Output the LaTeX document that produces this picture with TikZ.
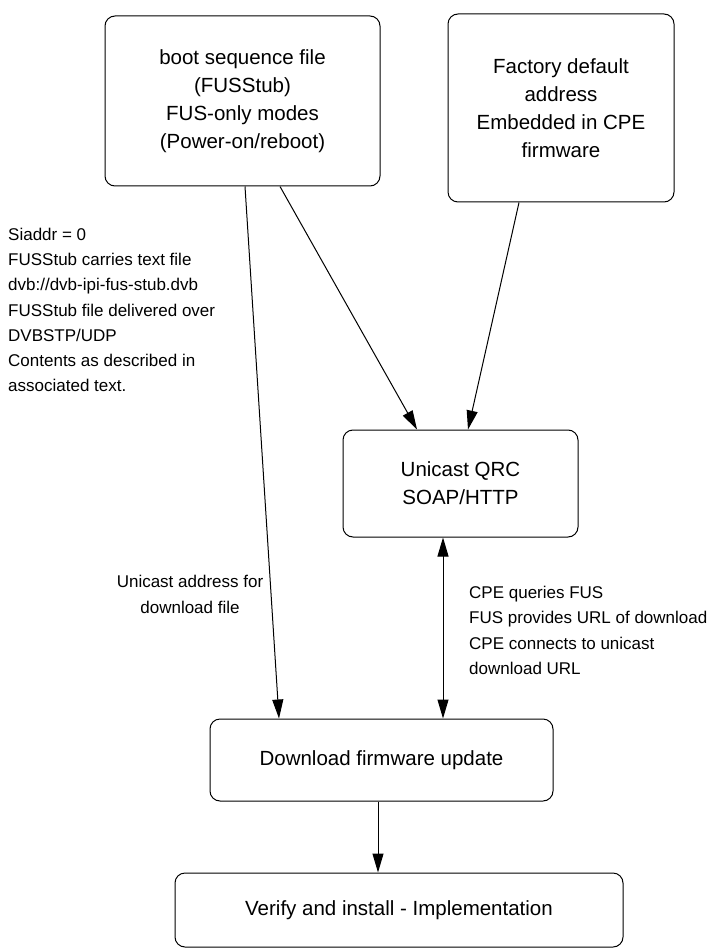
\documentclass[tikz,border=0pt]{standalone}
\usepackage{fontspec}
\setmainfont{Liberation Sans}
\usetikzlibrary{arrows.meta, positioning}

\begin{document}
\begin{tikzpicture}[
    x=1pt, y=-1pt,
    box/.style={
        rectangle, draw=black, line width=1pt,
        rounded corners=10pt, inner sep=0pt,
        align=center, font=\fontsize{20.5}{28}\selectfont
    },
    note/.style={inner sep=0pt, font=\fontsize{17}{25.3}\selectfont},
    arrow/.style={-{Triangle[length=19pt, width=11pt]}, line width=1pt},
    twoway/.style={{Triangle[length=19pt, width=11pt]}-{Triangle[length=19pt, width=11pt]}, line width=1pt}
]
    \useasboundingbox (0,0) rectangle (720,949);

    \node[box, minimum width=275pt, minimum height=170pt] (boot) at (242.5,101)
        {boot sequence file\\(FUSStub)\\FUS-only modes\\(Power-on/reboot)};
    \node[box, minimum width=226pt, minimum height=188pt] (factory) at (561,108)
        {Factory default\\address\\Embedded in CPE\\firmware};
    \node[box, minimum width=235pt, minimum height=107pt] (qrc) at (460.5,483.5)
        {Unicast QRC\\SOAP/HTTP};
    \node[box, minimum width=343pt, minimum height=82pt] (download) at (381.5,760)
        {Download firmware update};
    \node[box, minimum width=448pt, minimum height=74pt] (verify) at (399,910)
        {Verify and install - Implementation};

    %% Labels
    \node[note, anchor=west, align=left] (stubnote) at (8,310)
        {Siaddr = 0\\FUSStub carries text file\\dvb://dvb-ipi-fus-stub.dvb\\FUSStub file delivered over\\DVBSTP/UDP\\Contents as described in\\associated text.};
    \node[note, align=center] (addrnote) at (190,594.5)
        {Unicast address for\\download file};
    \node[note, anchor=west, align=left] (cpenote) at (469,630.5)
        {CPE queries FUS\\FUS provides URL of download\\CPE connects to unicast\\download URL};

    \draw[arrow] ([xshift=2.5]boot.south) -- ([xshift=-102.5]download.north);
    \draw[arrow] ([xshift=37.5]boot.south) -- ([xshift=-43.5]qrc.north);
    \draw[arrow] ([xshift=-42]factory.south) -- ([xshift=7.5]qrc.north);
    \draw[twoway] ([xshift=-17.5]qrc.south) -- ([xshift=-17.5]qrc.south |- download.north);
    \draw[arrow] ([xshift=-3.5]download.south) -- ([xshift=-3.5]download.south |- verify.north);
\end{tikzpicture}
\end{document}
